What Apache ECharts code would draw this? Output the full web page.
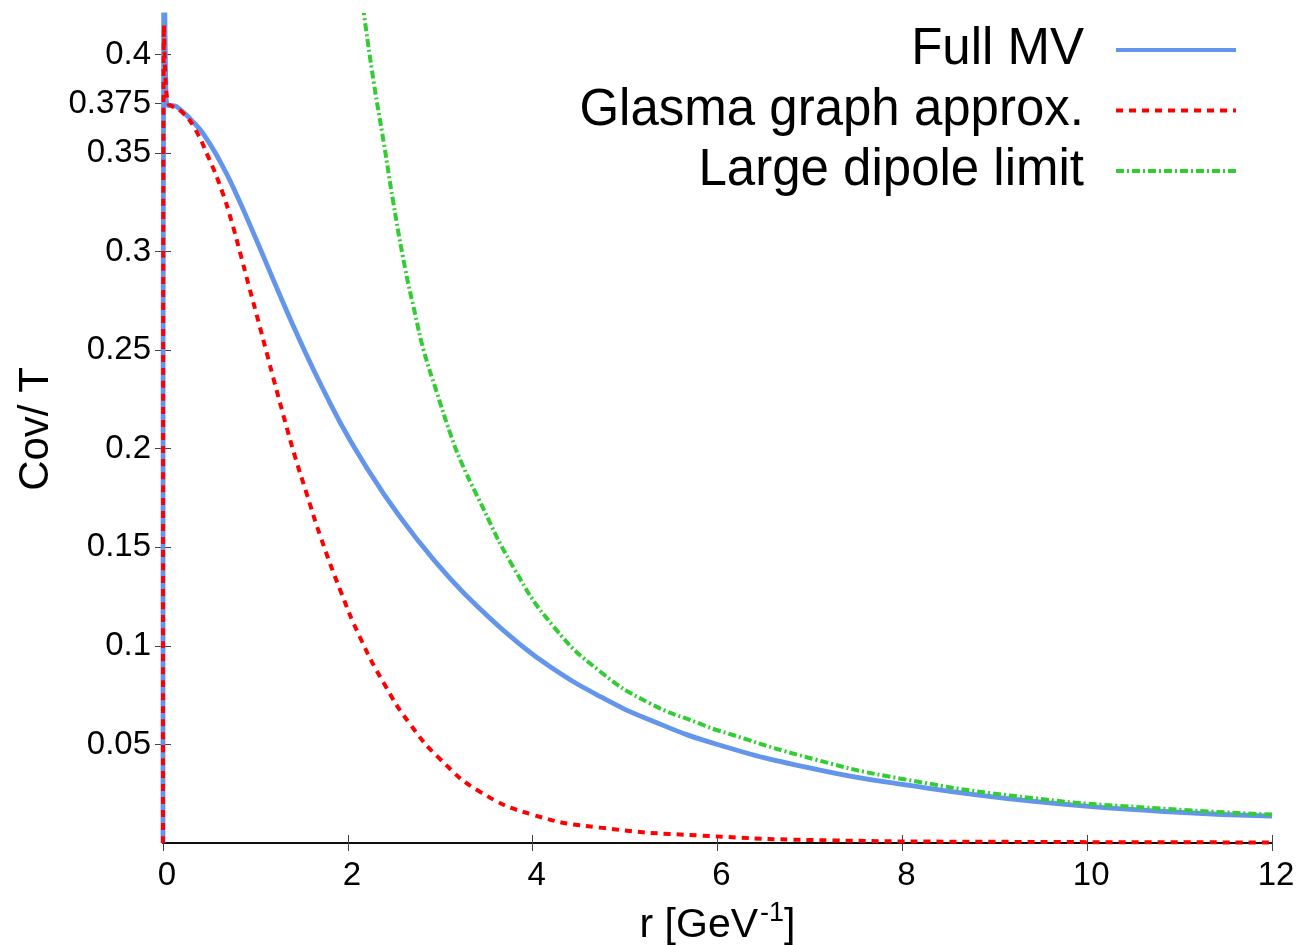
<!DOCTYPE html>
<html>
<head>
<meta charset="utf-8">
<script src="https://cdn.jsdelivr.net/npm/echarts@6/dist/echarts.min.js"></script>
<style>html,body{margin:0;padding:0;background:#fff}#c{width:1307px;height:945px}</style>
</head>
<body>
<div id="c"></div>
<script>
// Data: [r, Cov/T]
var fullMV = [
  [0,0],[0.01,0.5],[0.03,0.385],[0.06,0.374],[0.11,0.374],[0.2,0.3715],[0.32,0.366],[0.44,0.3595],
  [0.62,0.3455],[0.78,0.3305],[1.01,0.306],[1.25,0.2795],[1.48,0.255],[1.75,0.2285],[2.04,0.203],
  [2.39,0.177],[2.75,0.154],[3.11,0.134],[3.47,0.117],[3.83,0.102],[4.19,0.0894],[4.73,0.0743],
  [5.27,0.0624],[6.0,0.050],[7.07,0.0373],[8.0,0.0297],[9.4,0.0212],[10.79,0.0161],[12,0.0136]
];
var glasma = [
  [0,0],[0.01,0.415],[0.03,0.385],[0.06,0.375],[0.09,0.374],[0.2,0.371],[0.33,0.3635],[0.49,0.348],
  [0.636,0.331],[0.744,0.315],[0.834,0.2995],[0.924,0.2835],[1.03,0.265],[1.123,0.2485],[1.21,0.233],
  [1.32,0.214],[1.43,0.1958],[1.556,0.177],[1.70,0.156],[1.92,0.128],[2.13,0.1045],[2.39,0.081],
  [2.67,0.0605],[3.0,0.0425],[3.43,0.026],[4.01,0.0142],[4.73,0.0078],[5.81,0.0038],[7.26,0.0013],
  [9,0.0006],[12,0.0003]
];
var largeDipole = [
  [2.12,0.44],[2.17,0.422],[2.28,0.386],[2.39,0.355],[2.49,0.3255],[2.62,0.2915],[2.73,0.268],
  [2.82,0.25],[2.96,0.229],[3.11,0.2075],[3.22,0.194],[3.40,0.176],[3.79,0.140],[4.23,0.1096],
  [4.73,0.087],[5.27,0.0708],[5.81,0.0605],[6.0,0.0572],[7.07,0.0422],[8.0,0.0325],[9.4,0.0228],
  [10.79,0.0175],[12,0.0144]
];
var yTicks = [0.05,0.1,0.15,0.2,0.25,0.3,0.35,0.375,0.4];
var seriesNames = ['Full MV','Glasma graph approx.','Large dipole limit'];

var FONT = 'Liberation Sans, Arial, Helvetica, sans-serif';
var chart = echarts.init(document.getElementById('c'), null, {renderer:'canvas'});
var axisLine = {show:true, lineStyle:{color:'#000', width:1.5}};
var tick = {show:true, inside:true, length:8, lineStyle:{color:'#444', width:1}};
function legendAt(name, top){
  return {
    data:[name], right:64, top:top, orient:'horizontal', align:'right',
    itemWidth:120, itemHeight:14, selectedMode:false,
    itemStyle:{opacity:0},
    lineStyle:{width:4},
    textStyle:{fontFamily:FONT, fontSize:51, color:'#000', lineHeight:52, padding:[0,27,0,0]}
  };
}
chart.setOption({
  animation:false,
  backgroundColor:'#fff',
  grid:{left:163, right:35, top:15, bottom:102, containLabel:false, outerBoundsMode:'none'},
  legend:[legendAt(seriesNames[0],19), legendAt(seriesNames[1],79.5), legendAt(seriesNames[2],140)],
  xAxis:[{
    type:'value', min:0, max:12, interval:2, position:'bottom',
    axisLine:axisLine, axisTick:tick, splitLine:{show:false},
    axisLabel:{fontFamily:FONT, fontSize:33, color:'#000', margin:16, padding:[0,0,0,8]},
    name:'{a|r [GeV}{s|-1}{a|]}', nameLocation:'middle', nameGap:57,
    nameTextStyle:{rich:{
      a:{fontFamily:FONT, fontSize:41, color:'#000', verticalAlign:'bottom', lineHeight:46},
      s:{fontFamily:FONT, fontSize:27, color:'#000', verticalAlign:'top', lineHeight:46, padding:[0,0,0,2]}
    }}
  },{
    type:'value', min:0, max:12, interval:2, position:'top',
    axisLine:axisLine, axisTick:tick, axisLabel:{show:false}, splitLine:{show:false}
  }],
  yAxis:[{
    type:'value', min:0, max:0.42, position:'left',
    axisLine:axisLine, axisTick:Object.assign({customValues:yTicks}, tick), splitLine:{show:false},
    axisLabel:{customValues:yTicks, fontFamily:FONT, fontSize:33, color:'#000', margin:12},
    name:'Cov/ T', nameLocation:'middle', nameGap:95, nameRotate:90,
    nameTextStyle:{fontFamily:FONT, fontSize:42, color:'#000'}
  },{
    type:'value', min:0, max:0.42, position:'right',
    axisLine:axisLine, axisTick:Object.assign({customValues:yTicks}, tick),
    axisLabel:{show:false}, splitLine:{show:false}
  }],
  series:[{
    name:seriesNames[0], type:'line', data:fullMV, symbol:'none', smooth:0.5,
    clip:true, lineStyle:{color:'#6495ED', width:4.8, type:'solid'}, itemStyle:{color:'#6495ED'}, z:3
  },{
    name:seriesNames[1], type:'line', data:glasma, symbol:'none', smooth:0.5,
    clip:true, lineStyle:{color:'#FF0000', width:4, type:[7,6]}, itemStyle:{color:'#FF0000'}, z:4
  },{
    name:seriesNames[2], type:'line', data:largeDipole, symbol:'none', smooth:0.5,
    clip:true, lineStyle:{color:'#32CD32', width:4, type:[8,3,2,3]}, itemStyle:{color:'#32CD32'}, z:5
  }]
});
</script>
</body>
</html>
